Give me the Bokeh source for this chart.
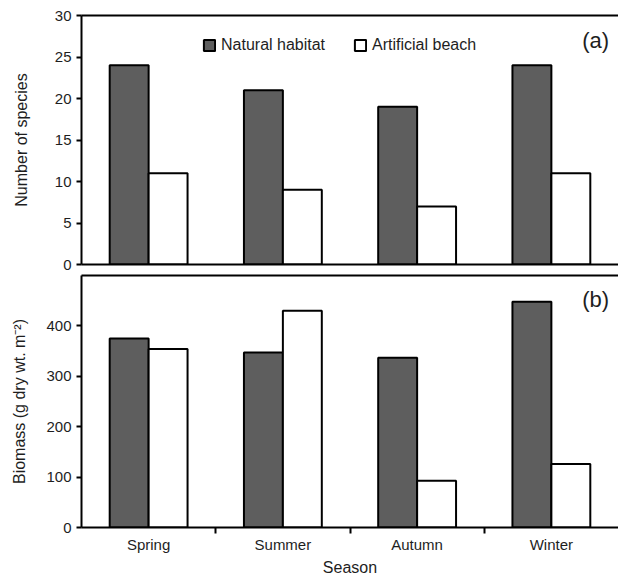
import numpy as np
from bokeh.plotting import figure
from bokeh.models import (ColumnDataSource, FixedTicker, LinearAxis, Range1d,
                          Label, Legend, LegendItem)
from bokeh.layouts import column
from bokeh.transform import dodge
from bokeh.embed import file_html
from bokeh.resources import INLINE

# ---- data ----
seasons = ["Spring", "Summer", "Autumn", "Winter"]
species_natural = [24, 21, 19, 24]
species_artificial = [11, 9, 7, 11]
biomass_natural = [375, 347, 337, 448]
biomass_artificial = [354, 430, 93, 126]
species_ticks = [0, 5, 10, 15, 20, 25, 30]
biomass_ticks = [0, 100, 200, 300, 400]
series_names = ["Natural habitat", "Artificial beach"]

FONT = "Liberation Sans"
DARK = "#5e5e5e"
TXT = "#1e1e1e"

centers = np.arange(len(seasons)) + 0.5
boundaries = np.arange(1, len(seasons))

src1 = ColumnDataSource(dict(x=centers, nat=species_natural, art=species_artificial))
src2 = ColumnDataSource(dict(x=centers, nat=biomass_natural, art=biomass_artificial))

BW = 0.29
W = 618


def style_y(ax, ticks, label, standoff):
    ax.ticker = FixedTicker(ticks=ticks)
    ax.axis_line_width = 2
    ax.axis_line_color = "black"
    ax.major_tick_line_width = 2
    ax.major_tick_line_color = "black"
    ax.major_tick_in = 0
    ax.major_tick_out = 5
    ax.minor_tick_line_color = None
    ax.major_label_text_font = FONT
    ax.major_label_text_font_size = "15px"
    ax.major_label_text_color = TXT
    ax.major_label_standoff = 5
    ax.axis_label = label
    ax.axis_label_text_font = FONT
    ax.axis_label_text_font_size = "16px"
    ax.axis_label_text_font_style = "normal"
    ax.axis_label_text_color = TXT
    ax.axis_label_standoff = standoff


def top_line(p):
    ax = LinearAxis(ticker=FixedTicker(ticks=[]), axis_line_width=2,
                    axis_line_color="black", major_tick_out=0, major_tick_in=0,
                    minor_tick_line_color=None, major_label_standoff=0,
                    major_label_text_font_size="0px")
    p.add_layout(ax, "above")


def bars(p, src):
    r1 = p.vbar(x=dodge("x", -BW / 2, range=p.x_range), top="nat", width=BW,
                fill_color=DARK, line_color="black", line_width=2, source=src)
    r2 = p.vbar(x=dodge("x", BW / 2, range=p.x_range), top="art", width=BW,
                fill_color="white", line_color="black", line_width=2, source=src)
    return r1, r2


# ---- panel (a) ----
p1 = figure(width=W, height=272, x_range=Range1d(0, len(seasons)), y_range=Range1d(0, 30),
            output_backend="svg", toolbar_location=None,
            min_border_left=81, min_border_right=0, min_border_top=15, min_border_bottom=8)
p1.outline_line_color = None
p1.grid.visible = False
style_y(p1.yaxis[0], species_ticks, "Number of species", 22)
xa = p1.xaxis[0]
xa.ticker = FixedTicker(ticks=[])
xa.axis_line_width = 2
xa.axis_line_color = "black"
xa.major_tick_out = 0
xa.major_tick_in = 0
xa.minor_tick_line_color = None
xa.major_label_standoff = 0
xa.major_label_text_font_size = "0px"
top_line(p1)
a1, a2 = bars(p1, src1)

legend = Legend(items=[LegendItem(label=series_names[0], renderers=[a1]),
                       LegendItem(label=series_names[1], renderers=[a2])],
                orientation="horizontal", location=(121, 210),
                padding=0, margin=0, spacing=28, glyph_width=14, glyph_height=14,
                label_standoff=5, label_height=18,
                label_text_font=FONT, label_text_font_size="16px", label_text_color=TXT,
                background_fill_alpha=0, border_line_color=None)
p1.add_layout(legend, "center")
p1.add_layout(Label(x=3.93, y=27, text="(a)", text_align="right", text_baseline="middle",
                    text_font=FONT, text_font_size="22px", text_color=TXT))

# ---- panel (b) ----
p2 = figure(width=W, height=306, x_range=Range1d(0, len(seasons)), y_range=Range1d(0, 500),
            output_backend="svg", toolbar_location=None,
            min_border_left=81, min_border_right=0, min_border_top=3, min_border_bottom=50)
p2.outline_line_color = None
p2.grid.visible = False
style_y(p2.yaxis[0], biomass_ticks, "Biomass (g dry wt. m\u207b\u00b2)", 15)
xb = p2.xaxis[0]
xb.ticker = FixedTicker(ticks=list(centers), minor_ticks=list(boundaries))
xb.major_label_overrides = {float(c): s for c, s in zip(centers, seasons)}
xb.axis_line_width = 2
xb.axis_line_color = "black"
xb.major_tick_out = 0
xb.major_tick_in = 0
xb.major_tick_line_color = None
xb.minor_tick_out = 6
xb.minor_tick_in = 0
xb.minor_tick_line_width = 2
xb.minor_tick_line_color = "black"
xb.major_label_standoff = 2
xb.major_label_text_font = FONT
xb.major_label_text_font_size = "15px"
xb.major_label_text_color = TXT
xb.axis_label = "Season"
xb.axis_label_text_font = FONT
xb.axis_label_text_font_size = "16px"
xb.axis_label_text_font_style = "normal"
xb.axis_label_text_color = TXT
xb.axis_label_standoff = 3
top_line(p2)
bars(p2, src2)
p2.add_layout(Label(x=3.93, y=452, text="(b)", text_align="right", text_baseline="middle",
                    text_font=FONT, text_font_size="22px", text_color=TXT))

layout = column(p1, p2, spacing=0)
open("out.html", "w").write(file_html(layout, INLINE))
